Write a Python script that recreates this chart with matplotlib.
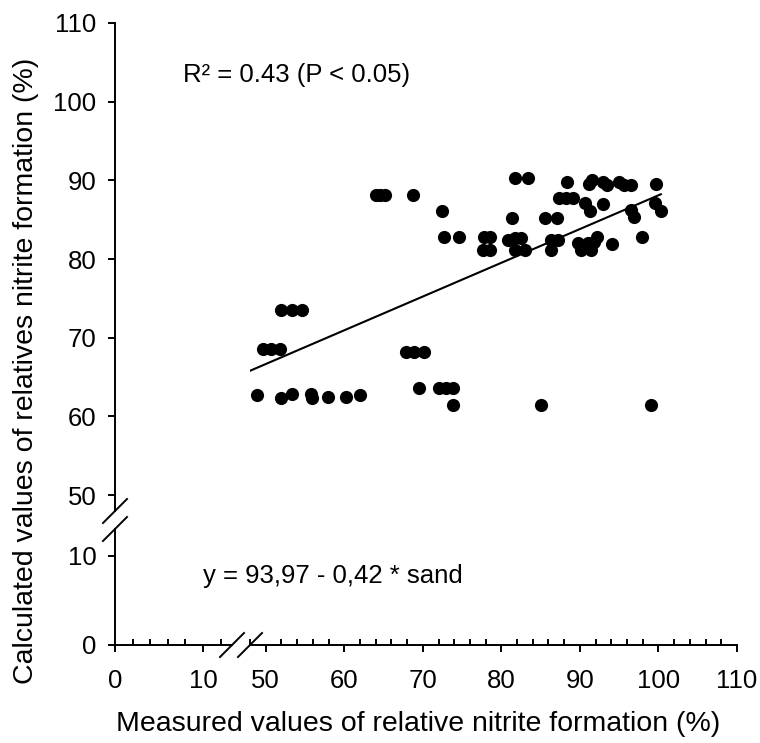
import matplotlib
matplotlib.use("Agg")
import matplotlib.pyplot as plt
from matplotlib.lines import Line2D
import numpy as np

plt.rcParams['font.family'] = ['Liberation Sans', 'DejaVu Sans']

# Measured vs calculated relative nitrite formation (%)
measured = [49.7, 50.7, 51.8, 52.0, 53.3, 54.6, 48.9, 52.0, 53.3, 55.8,
            55.9, 57.9, 60.2, 62.0, 64.0, 64.6, 65.2, 68.7, 67.8, 68.9,
            70.1, 69.5, 72.0, 73.0, 73.9, 73.8, 72.5, 72.7, 74.6, 77.8,
            78.6, 77.6, 78.5, 81.7, 83.4, 81.4, 80.9, 81.7, 82.5, 81.8,
            83.0, 85.5, 87.1, 86.3, 87.2, 86.3, 85.1, 88.4, 87.4, 88.2,
            89.1, 90.6, 91.3, 93.0, 91.2, 91.6, 92.9, 93.5, 95.0, 95.6,
            96.5, 99.7, 96.5, 96.9, 99.6, 100.3, 97.9, 94.1, 92.2, 89.7,
            90.1, 91.4, 91.0, 91.8, 99.1]
calculated = [68.6, 68.6, 68.6, 73.5, 73.5, 73.5, 62.7, 62.3, 62.8, 62.8,
              62.3, 62.4, 62.4, 62.7, 88.2, 88.2, 88.2, 88.2, 68.2, 68.2,
              68.2, 63.6, 63.6, 63.6, 63.6, 61.4, 86.1, 82.8, 82.8, 82.8,
              82.8, 81.1, 81.1, 90.3, 90.3, 85.2, 82.4, 82.7, 82.7, 81.1,
              81.1, 85.2, 85.2, 82.4, 82.4, 81.1, 61.4, 89.8, 87.7, 87.7,
              87.7, 87.1, 86.1, 87.0, 89.5, 90.0, 89.8, 89.4, 89.8, 89.4,
              89.4, 89.5, 86.2, 85.3, 87.1, 86.1, 82.75, 81.9, 82.8, 82.0,
              81.1, 81.1, 82.0, 82.2, 61.4]

# Trend line through the scatter
fit_intercept = 45.2
fit_slope = 0.429
fit_range = [48.0, 100.3]

stats_text = "R² = 0.43 (P < 0.05)"
equation_text = "y = 93,97 - 0,42 * sand"
xlabel = "Measured values of relative nitrite formation (%)"
ylabel = "Calculated values of relatives nitrite formation (%)"

upper_xticks = [50, 60, 70, 80, 90, 100, 110]
upper_yticks = [50, 60, 70, 80, 90, 100, 110]
lower_xticks = [0, 10]
lower_yticks = [0, 10]
upper_xminor = np.arange(48, 111, 2)
lower_xminor = [2, 4, 6, 8, 12]

# ---- layout (pixels) ----
W, H, DPI = 760, 743, 100
FS = 18.5
LABEL_FS = 20.5
LW = 1.4


def box(x0, x1, ytop, ybot):
    return [x0 / W, 1 - ybot / H, (x1 - x0) / W, (ybot - ytop) / H]


def pt(px):
    return px * 72.0 / DPI


spine_x, spine_y = 115, 645
main_px = (250, 737, 23, 511)
low_px = (115, 232, 529, 645)

fig = plt.figure(figsize=(W / DPI, H / DPI), dpi=DPI)
ax = fig.add_axes(box(*main_px))
axl = fig.add_axes(box(*low_px))
for a in (ax, axl):
    a.patch.set_visible(False)
    for s in ("top", "right"):
        a.spines[s].set_visible(False)
    for s in ("left", "bottom"):
        a.spines[s].set_linewidth(LW)
    a.tick_params(axis="both", which="major", direction="out", length=5,
                  width=LW, labelsize=FS)
    a.tick_params(axis="x", which="major", pad=12)
    a.tick_params(axis="y", which="major", pad=8.5)
    a.tick_params(axis="x", which="minor", direction="in", length=4, width=LW)

ax.spines["left"].set_position(("outward", pt(main_px[0] - spine_x)))
ax.spines["bottom"].set_position(("outward", pt(spine_y - main_px[3])))

ax.set_xlim(48.35, 110)
ax.set_ylim(47.97, 110)
axl.set_xlim(0, 13.3)
axl.set_ylim(0, 13.0)

ax.set_xticks(upper_xticks)
ax.set_yticks(upper_yticks)
ax.set_xticks(upper_xminor, minor=True)
axl.set_xticks(lower_xticks)
axl.set_yticks(lower_yticks)
axl.set_xticks(lower_xminor, minor=True)
ax.tick_params(axis="y", which="minor", left=False)
axl.tick_params(axis="y", which="minor", left=False)

ax.scatter(measured, calculated, s=90, color="black", linewidths=0,
           zorder=3, clip_on=False)
fx = np.array(fit_range)
ax.plot(fx, fit_intercept + fit_slope * fx, color="black", lw=1.5, zorder=2)


# break marks on both axes
def slash(cx, cy, h=12):
    fig.add_artist(Line2D([(cx - h) / W, (cx + h) / W],
                          [1 - (cy + h) / H, 1 - (cy - h) / H],
                          color="black", lw=LW, transform=fig.transFigure))


slash(spine_x, main_px[3])
slash(spine_x, low_px[2])
slash(low_px[1], spine_y)
slash(main_px[0], spine_y)

fig.text(183 / W, 1 - 82 / H, stats_text, fontsize=FS, va="baseline", ha="left")
fig.text(203 / W, 1 - 583 / H, equation_text, fontsize=FS, va="baseline", ha="left")
fig.text(418 / W, 1 - 731 / H, xlabel, fontsize=LABEL_FS, ha="center",
         va="baseline")
fig.text(33 / W, 1 - 371 / H, ylabel, fontsize=LABEL_FS, ha="center",
         va="baseline", rotation=90, rotation_mode="anchor")

fig.savefig("out.png", dpi=DPI)
